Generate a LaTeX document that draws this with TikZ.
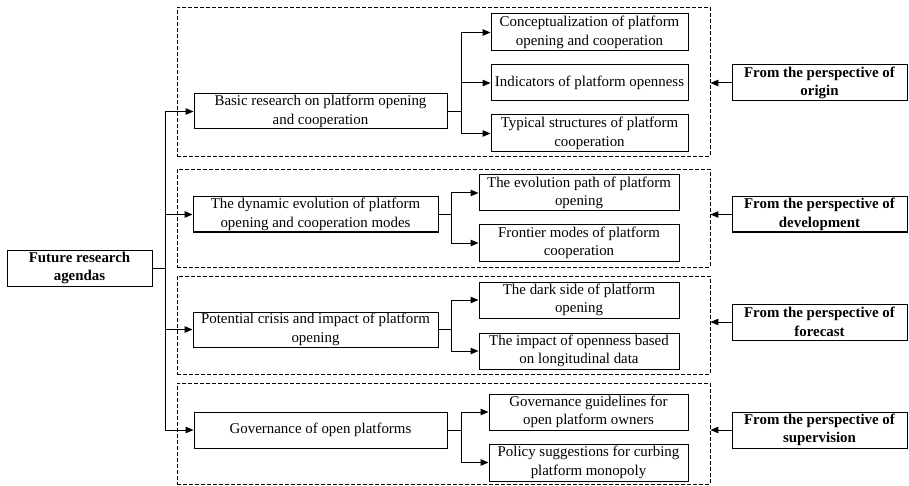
\documentclass[tikz,border=0pt]{standalone}
\usepackage{fontspec}
\setmainfont{Liberation Serif}
\usetikzlibrary{arrows.meta}
\begin{document}
\begin{tikzpicture}[x=1pt,y=-1pt,
  box/.style={draw,line width=1pt,align=center,inner sep=0pt,
    font=\fontsize{14.9}{18.5}\selectfont},
  boldbox/.style={box,font=\fontsize{14.9}{18.5}\selectfont\bfseries},
  frame/.style={draw,line width=0.9pt,inner sep=0pt,dash pattern=on 4pt off 2pt},
  link/.style={line width=1pt},
  arr/.style={line width=1pt,-{Triangle[length=8pt,width=6.5pt]}}]
\useasboundingbox (0,0) rectangle (909,486);

% dashed group frames
\node[frame,minimum width=533,minimum height=149] (f1) at (443.5,81.5) {};
\node[frame,minimum width=533,minimum height=98] (f2) at (443.5,218) {};
\node[frame,minimum width=533,minimum height=98] (f3) at (443.5,325) {};
\node[frame,minimum width=533,minimum height=101] (f4) at (443.5,433.5) {};

% root
\node[boldbox,minimum width=145,minimum height=36] (root) at (79.5,268)
  {Future research\\agendas};

% main topics
\node[box,minimum width=253,minimum height=35] (m1) at (320.5,111.5)
  {Basic research on platform opening\\and cooperation};
\node[box,minimum width=245,minimum height=35] (m2) at (315.5,214.5)
  {The dynamic evolution of platform\\opening and cooperation modes};
\node[box,minimum width=245,minimum height=35] (m3) at (315.5,329.5)
  {Potential crisis and impact of platform\\opening};
\node[box,minimum width=253,minimum height=36] (m4) at (320.5,430)
  {Governance of open platforms};

% sub topics
\node[box,minimum width=197,minimum height=37] (s1a) at (589.5,32.5)
  {Conceptualization of platform\\opening and cooperation};
\node[box,minimum width=197,minimum height=36] (s1b) at (589.5,83)
  {Indicators of platform openness};
\node[box,minimum width=197,minimum height=37] (s1c) at (589.5,133.5)
  {Typical structures of platform\\cooperation};
\node[box,minimum width=200,minimum height=36] (s2a) at (579,193)
  {The evolution path of platform\\opening};
\node[box,minimum width=200,minimum height=36] (s2b) at (579,243)
  {Frontier modes of platform\\cooperation};
\node[box,minimum width=200,minimum height=36] (s3a) at (579,300)
  {The dark side of platform\\opening};
\node[box,minimum width=200,minimum height=36] (s3b) at (579,351)
  {The impact of openness based\\on longitudinal data};
\node[box,minimum width=199,minimum height=36] (s4a) at (588.5,412)
  {Governance guidelines for\\open platform owners};
\node[box,minimum width=199,minimum height=37] (s4b) at (588.5,462.5)
  {Policy suggestions for curbing\\platform monopoly};

% perspectives
\node[boldbox,minimum width=175,minimum height=36] (p1) at (819.5,83)
  {From the perspective of\\origin};
\node[boldbox,minimum width=175,minimum height=35] (p2) at (819.5,214.5)
  {From the perspective of\\development};
\node[boldbox,minimum width=175,minimum height=36] (p3) at (819.5,322)
  {From the perspective of\\forecast};
\node[boldbox,minimum width=175,minimum height=36] (p4) at (819.5,430)
  {From the perspective of\\supervision};

% trunk from the root to the main topics
\coordinate (trunk) at (165,268);
\draw[link] (root.east) -- (trunk);
\foreach \m in {m1,m2,m3,m4} \draw[arr] (trunk) |- (\m.west);

% branches from main topics to sub topics
\coordinate (b1) at (461,111.5);
\coordinate (b2) at (451,214.5);
\coordinate (b3) at (451,329.5);
\coordinate (b4) at (461,430);
\draw[link] (m1.east) -- (b1);
\draw[link] (m2.east) -- (b2);
\draw[link] (m3.east) -- (b3);
\draw[link] (m4.east) -- (b4);
\foreach \s in {s1a,s1b,s1c} \draw[arr] (b1) |- (\s.west);
\foreach \s in {s2a,s2b} \draw[arr] (b2) |- (\s.west);
\foreach \s in {s3a,s3b} \draw[arr] (b3) |- (\s.west);
\foreach \s in {s4a,s4b} \draw[arr] (b4) |- (\s.west);

% perspectives point at their groups
\draw[arr] (p1.west) -- (f1.east |- p1.west);
\draw[arr] (p2.west) -- (f2.east |- p2.west);
\draw[arr] (p3.west) -- (f3.east |- p3.west);
\draw[arr] (p4.west) -- (f4.east |- p4.west);
\end{tikzpicture}
\end{document}
